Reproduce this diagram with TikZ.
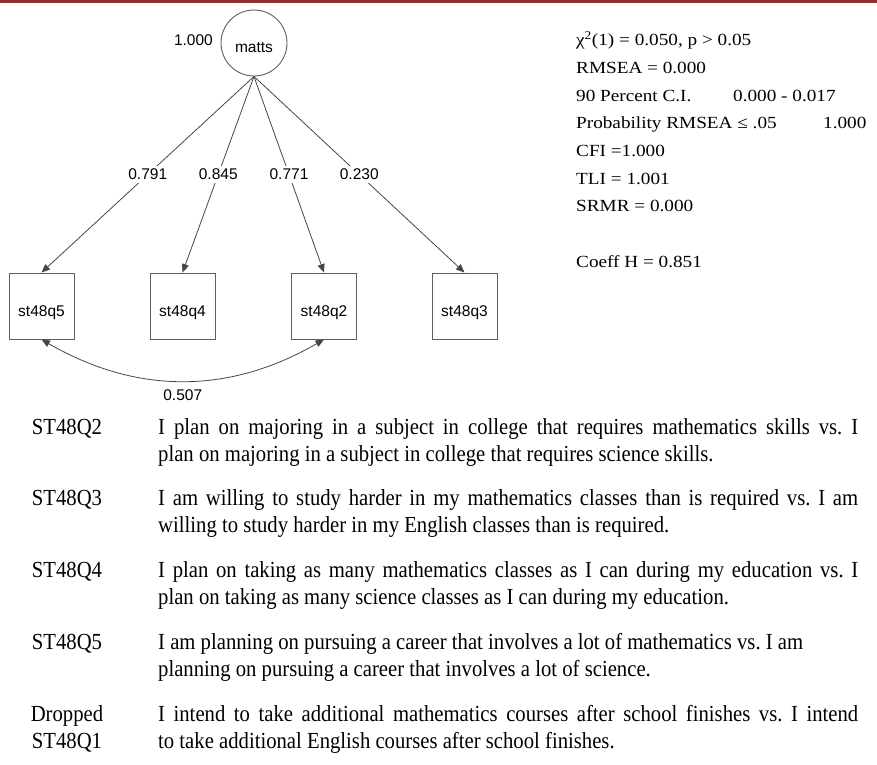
\documentclass[tikz,border=0pt]{standalone}
\usepackage{fontspec}
\setmainfont{Liberation Serif}
\newfontfamily\diagfont{Liberation Sans}
\newfontfamily\statfont{Liberation Serif}[FakeStretch=1.13]
\newfontfamily\tabfont{Liberation Serif}[FakeStretch=0.9]
\newfontfamily\keyfont{Liberation Serif}[FakeStretch=0.9]
\usetikzlibrary{arrows.meta}
\definecolor{rulered}{RGB}{140,48,48}
\definecolor{edgegray}{RGB}{70,70,70}
\definecolor{framegray}{RGB}{95,95,95}
% a full justified line of the item column
\newcommand{\fullline}[1]{\makebox[700pt][s]{#1}}

\begin{document}
\frenchspacing
\begin{tikzpicture}[x=1pt,y=-1pt,
  every node/.style={inner sep=0pt},
  diagtext/.style={font=\diagfont\fontsize{15.5}{18}\selectfont},
  latent/.style={diagtext, circle, draw=framegray, line width=0.9pt,
    minimum size=66pt, text height=18pt, text depth=0pt},
  observed/.style={diagtext, rectangle, draw=framegray, line width=0.9pt,
    minimum width=65pt, minimum height=66pt, text height=20pt, text depth=0pt},
  tip/.tip={Triangle[length=8.5pt,width=7pt]},
  loading/.style={draw=edgegray, line width=0.8pt, -tip},
  covar/.style={draw=edgegray, line width=0.8pt, tip-tip},
  coef/.style={diagtext, fill=white, inner xsep=2pt, inner ysep=3pt},
  stat/.style={font=\statfont\fontsize{17}{20}\selectfont, anchor=base west},
  itemlabel/.style={font=\keyfont\fontsize{23}{28}\selectfont, anchor=base},
  itemtext/.style={font=\tabfont\fontsize{23}{28}\selectfont\frenchspacing, anchor=base west}
]
\useasboundingbox (0,0) rectangle (877,764);

% header rule
\draw[rulered, line width=2.5pt] (0,1.5) -- (877,1.5);

% factor and its indicators
\node[latent] (matts) at (254,43) {matts};
\node[diagtext, anchor=east] (matvar) at (213,40) {1.000};

\node[observed] (q5) at (41.5,306) {st48q5};
\node[observed] (q4) at (182.5,306) {st48q4};
\node[observed] (q2) at (324,306) {st48q2};
\node[observed] (q3) at (464.5,306) {st48q3};

% factor loadings
\draw[loading] (matts.south) -- node[coef] (l5) {0.791} (q5.north);
\draw[loading] (matts.south) -- node[coef] (l4) {0.845} (q4.north);
\draw[loading] (matts.south) -- node[coef] (l2) {0.771} (q2.north);
\draw[loading] (matts.south) -- node[coef] (l3) {0.230} (q3.north);

% residual covariance
\draw[covar] (q5.south) .. controls +(95,55) and +(-95,55) .. (q2.south)
  node[diagtext, pos=0.5, below=9pt] (cov) {0.507};

% fit statistics
\node[stat] (s1) at (576,45.7) {χ\textsuperscript{2}(1) = 0.050, p > 0.05};
\node[stat] (s2) at (576,73.4) {RMSEA = 0.000};
\node[stat] (s3) at (576,101.1) {90 Percent C.I.};
\node[stat] (s3v) at (733,101.1) {0.000 - 0.017};
\node[stat] (s4) at (576,128.8) {Probability RMSEA ≤ .05};
\node[stat] (s4v) at (823,128.8) {1.000};
\node[stat] (s5) at (576,156.5) {CFI =1.000};
\node[stat] (s6) at (576,184.2) {TLI = 1.001};
\node[stat] (s7) at (576,211.9) {SRMR = 0.000};
\node[stat] (s8) at (576,267.3) {Coeff H = 0.851};

% item wording
\node[itemlabel] (k2) at (67,434) {ST48Q2};
\node[itemtext] (t2a) at (158,434) {\fullline{I plan on majoring in a subject in college that requires mathematics skills vs. I}};
\node[itemtext] (t2b) at (158,461) {plan on majoring in a subject in college that requires science skills.};

\node[itemlabel] (k3) at (67,505.75) {ST48Q3};
\node[itemtext] (t3a) at (158,505.75) {\fullline{I am willing to study harder in my mathematics classes than is required vs. I am}};
\node[itemtext] (t3b) at (158,532.75) {willing to study harder in my English classes than is required.};

\node[itemlabel] (k4) at (67,577.5) {ST48Q4};
\node[itemtext] (t4a) at (158,577.5) {\fullline{I plan on taking as many mathematics classes as I can during my education vs. I}};
\node[itemtext] (t4b) at (158,604.5) {plan on taking as many science classes as I can during my education.};

\node[itemlabel] (k5) at (67,649.25) {ST48Q5};
\node[itemtext] (t5a) at (158,649.25) {I am planning on pursuing a career that involves a lot of mathematics vs. I am};
\node[itemtext] (t5b) at (158,676.25) {planning on pursuing a career that involves a lot of science.};

\node[itemlabel] (k1a) at (67,721) {Dropped};
\node[itemlabel] (k1b) at (67,748) {ST48Q1};
\node[itemtext] (t1a) at (158,721) {\fullline{I intend to take additional mathematics courses after school finishes vs. I intend}};
\node[itemtext] (t1b) at (158,748) {to take additional English courses after school finishes.};
\end{tikzpicture}
\end{document}
